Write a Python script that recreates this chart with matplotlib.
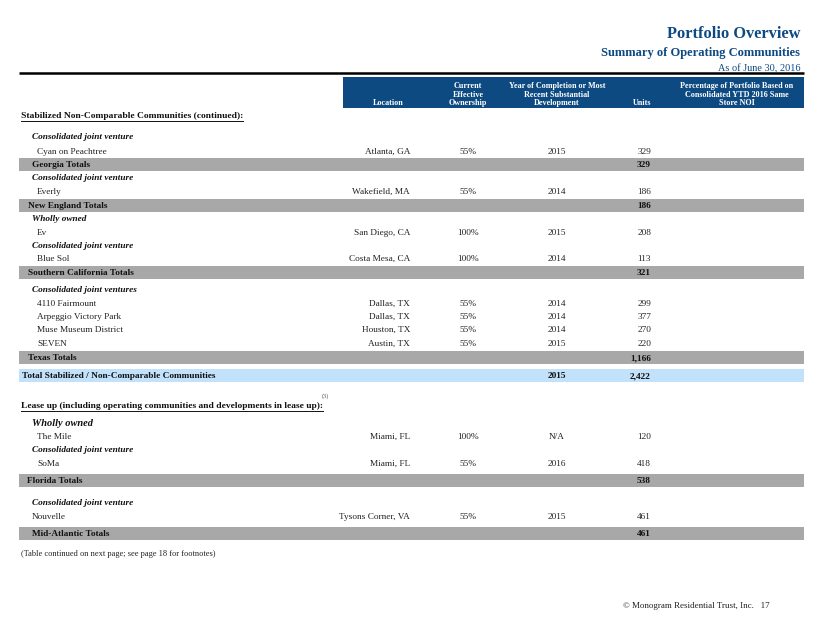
import matplotlib.pyplot as plt
import matplotlib.patches as mpatches

# --- datos de la tabla ---
comunidades = ["Cyan on Peachtree", "Everly", "Ev", "Blue Sol", "4110 Fairmount",
               "Arpeggio Victory Park", "Muse Museum District", "SEVEN",
               "The Mile", "SoMa", "Nouvelle"]
ubicaciones = ["Atlanta, GA", "Wakefield, MA", "San Diego, CA", "Costa Mesa, CA",
               "Dallas, TX", "Dallas, TX", "Houston, TX", "Austin, TX",
               "Miami, FL", "Miami, FL", "Tysons Corner, VA"]
participacion = ["55%", "55%", "100%", "100%", "55%", "55%", "55%", "55%",
                 "100%", "55%", "55%"]
anios = ["2015", "2014", "2015", "2014", "2014", "2014", "2014", "2015",
         "N/A", "2016", "2015"]
unidades = [329, 186, 208, 113, 299, 377, 270, 220, 120, 418, 461]

regiones = ["Georgia Totals", "New England Totals", "Southern California Totals",
            "Texas Totals", "Florida Totals", "Mid-Atlantic Totals"]
unidades_region = [329, 186, 321, 1166, 538, 461]

total_nombre = "Total Stabilized / Non-Comparable Communities"
total_anio = "2015"
total_unidades = 2422

secciones = ["Stabilized Non-Comparable Communities (continued):",
             "Lease up (including operating communities and developments in lease up):"]

encabezados = ["Location", "Current\nEffective\nOwnership",
               "Year of Completion or Most\nRecent Substantial\nDevelopment",
               "Units",
               "Percentage of Portfolio Based on\nConsolidated YTD 2016 Same\nStore NOI"]

# --- disposicion (tipo, indice, y, x) ---
filas = [
    ("sec", 0, 115, 21),
    ("grp", "Consolidated joint venture", 136, 32),
    ("item", 0, 151, 37),
    ("tot", 0, 164, 32),
    ("grp", "Consolidated joint venture", 177, 32),
    ("item", 1, 191, 37),
    ("tot", 1, 205, 28),
    ("grp", "Wholly owned", 218, 32),
    ("item", 2, 232, 37),
    ("grp", "Consolidated joint venture", 245, 32),
    ("item", 3, 258, 37),
    ("tot", 2, 272, 28),
    ("grp", "Consolidated joint ventures", 289, 32),
    ("item", 4, 303, 37),
    ("item", 5, 316, 37),
    ("item", 6, 329, 37),
    ("item", 7, 343, 37),
    ("tot", 3, 357, 28),
    ("gran", 0, 375, 22),
    ("sec", 1, 405, 21),
    ("grpG", "Wholly owned", 422, 32),
    ("item", 8, 436, 37),
    ("grp", "Consolidated joint venture", 449, 32),
    ("item", 9, 463, 37),
    ("tot", 4, 480, 27),
    ("grp", "Consolidated joint venture", 502, 32),
    ("item", 10, 516, 32),
    ("tot", 5, 533, 32),
]

AZUL = "#0d4a82"
GRIS = "#a8a8a8"
CELESTE = "#c2e2fb"
FUENTE = "Liberation Serif"
FS = 6.7
DY = 1.3  # ajuste vertical del texto

x_ubic, x_part, x_anio, x_unid, x_pct = 410, 468, 557, 651, 737
x_izq, x_der = 19, 804

fig = plt.figure(figsize=(8.22, 6.35), dpi=100)
ax = fig.add_axes([0, 0, 1, 1])
ax.set_xlim(0, 822)
ax.set_ylim(635, 0)
ax.axis("off")

def txt(x, y, s, **kw):
    kw.setdefault("fontsize", FS)
    kw.setdefault("va", "center")
    kw.setdefault("family", FUENTE)
    kw.setdefault("color", "#222222")
    return ax.text(x, y + DY, s, **kw)

# Titulos
txt(800, 33, "Portfolio Overview", ha="right", fontsize=11.8, weight="bold", color=AZUL)
txt(800, 52, "Summary of Operating Communities", ha="right", fontsize=9, weight="bold", color=AZUL)
txt(800, 67, "As of June 30, 2016", ha="right", fontsize=7.4, color=AZUL)
ax.plot([x_izq, x_der], [73, 73], color="black", lw=1.8, solid_capstyle="butt")

# Encabezado
ax.add_patch(mpatches.Rectangle((343, 77), x_der - 343, 31, color=AZUL, lw=0))
cols_enc = [388, x_part, x_anio, 642, x_pct]
for cx, h in zip(cols_enc, encabezados):
    lineas = h.split("\n")
    n = len(lineas)
    for i, l in enumerate(lineas):
        txt(cx, 102 - 8.4 * (n - 1 - i), l, ha="center", fontsize=5.9,
            weight="bold", color="white")

subrayar = []
for tipo, idx, y, x in filas:
    if tipo == "sec":
        t = txt(x, y, secciones[idx], weight="bold", fontsize=6.8, color="#111111")
        subrayar.append(t)
    elif tipo in ("grp", "grpG"):
        txt(x, y, idx, weight="bold", style="italic", color="#111111",
            fontsize=7.5 if tipo == "grpG" else FS)
    elif tipo == "item":
        txt(x, y, comunidades[idx])
        txt(x_ubic, y, ubicaciones[idx], ha="right")
        txt(x_part, y, participacion[idx], ha="center")
        txt(x_anio, y, anios[idx], ha="center")
        txt(x_unid, y, f"{unidades[idx]:,}", ha="right")
    elif tipo == "tot":
        ax.add_patch(mpatches.Rectangle((x_izq, y - 6.5), x_der - x_izq, 13,
                                        color=GRIS, lw=0))
        txt(x, y, regiones[idx], weight="bold", color="#111111")
        txt(x_unid, y, f"{unidades_region[idx]:,}", ha="right", weight="bold",
            color="#111111")
    elif tipo == "gran":
        ax.add_patch(mpatches.Rectangle((x_izq, y - 6.5), x_der - x_izq, 13,
                                        color=CELESTE, lw=0))
        txt(x, y, total_nombre, weight="bold", color="#111111")
        txt(x_anio, y, total_anio, ha="center", weight="bold", color="#111111")
        txt(x_unid, y, f"{total_unidades:,}", ha="right", weight="bold",
            color="#111111")

# superindice y notas
txt(322, 395, "(3)", fontsize=4.5, color="#555555")
txt(21, 553, "(Table continued on next page; see page 18 for footnotes)", fontsize=6)
txt(770, 605, "\u00a9 Monogram Residential Trust, Inc.   17", ha="right", fontsize=6.5)

# subrayado de secciones
fig.canvas.draw()
r = fig.canvas.get_renderer()
for t in subrayar:
    bb = t.get_window_extent(r).transformed(ax.transData.inverted())
    yb = max(bb.y0, bb.y1) + 0.3
    ax.plot([bb.x0, bb.x1], [yb, yb], color="#111111", lw=0.7)

fig.savefig("out.png", dpi=100)
